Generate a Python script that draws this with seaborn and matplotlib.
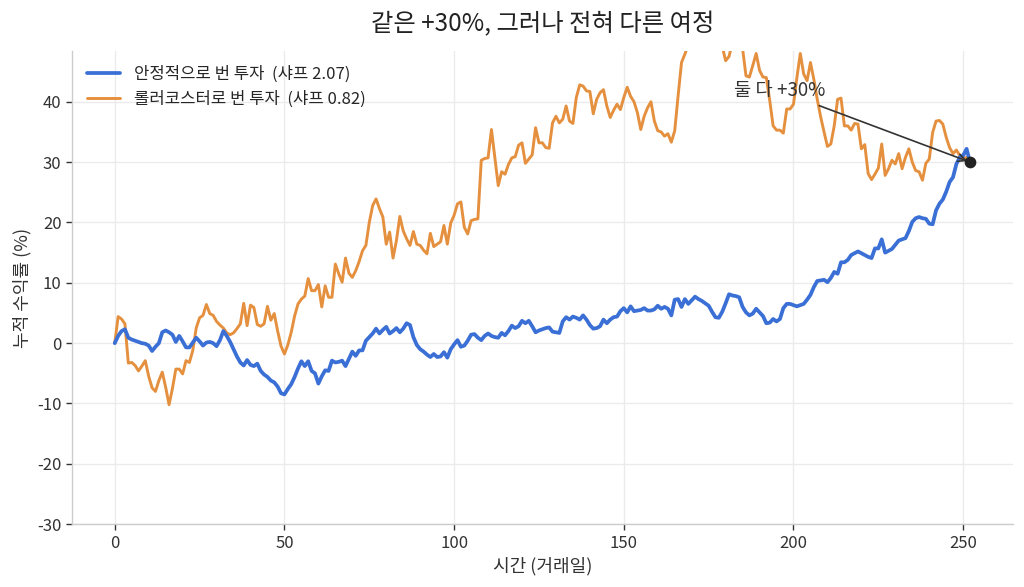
import numpy as np
import pandas as pd
import matplotlib
matplotlib.use("Agg")
import matplotlib.pyplot as plt
import seaborn as sns

# ---- data (cumulative return, %) for trading days 0..252 ----
stable = [
    0.0, 1.2, 2.0, 2.3, 0.9, 0.6, 0.4, 0.2, 0.0, -0.1,
    -0.4, -1.3, -0.6, 0.0, 1.8, 2.1, 1.8, 1.4, 0.2, 1.2,
    0.3, -0.7, -0.7, 0.1, 0.9, 0.3, -0.4, 0.1, 0.2, 0.0,
    -0.5, 0.5, 2.0, 1.2, 0.2, -1.0, -2.2, -3.2, -3.7, -2.8,
    -3.6, -3.8, -3.4, -4.6, -5.2, -5.6, -6.2, -6.5, -7.2, -8.3,
    -8.5, -7.6, -6.8, -5.6, -4.2, -3.0, -3.8, -3.0, -4.6, -5.0,
    -6.7, -5.5, -4.5, -4.6, -2.9, -3.2, -3.1, -2.9, -3.8, -2.6,
    -1.4, -2.1, -1.2, -1.2, 0.4, 1.0, 1.6, 2.4, 1.6, 2.2,
    2.7, 1.6, 2.0, 2.5, 1.8, 2.4, 3.3, 3.0, 1.0, -0.3,
    -1.0, -1.4, -1.9, -2.3, -1.8, -2.3, -2.2, -1.5, -2.4, -1.0,
    -0.2, 0.5, -0.6, -0.4, 0.4, 1.4, 1.5, 0.9, 0.5, 1.2,
    1.6, 1.2, 1.0, 0.9, 1.7, 1.3, 2.0, 2.9, 2.5, 2.8,
    3.7, 3.3, 3.7, 2.8, 1.8, 2.1, 2.3, 2.5, 2.6, 1.9,
    1.8, 1.7, 3.6, 4.3, 3.9, 4.4, 4.2, 3.9, 4.6, 3.9,
    3.0, 2.4, 2.5, 2.8, 3.9, 3.3, 3.9, 4.3, 4.4, 5.3,
    5.8, 5.1, 6.1, 5.3, 5.4, 5.5, 5.8, 5.4, 5.4, 5.6,
    6.2, 5.7, 6.0, 5.7, 4.6, 7.2, 7.3, 6.0, 7.3, 6.5,
    7.1, 7.7, 7.3, 7.0, 6.6, 6.2, 5.2, 4.3, 4.2, 5.2,
    6.6, 8.1, 7.9, 7.8, 7.6, 6.0, 5.1, 4.6, 4.9, 5.7,
    5.1, 4.5, 3.3, 3.4, 4.0, 3.6, 4.0, 5.8, 6.5, 6.5,
    6.3, 6.1, 6.3, 6.5, 7.2, 8.0, 9.3, 10.3, 10.4, 10.5,
    10.1, 10.8, 11.8, 11.5, 13.4, 13.4, 13.8, 14.6, 14.9, 15.2,
    14.9, 14.6, 14.3, 14.1, 15.7, 15.7, 17.2, 15.0, 15.3, 15.6,
    16.3, 17.0, 17.2, 17.4, 18.6, 20.1, 20.7, 20.9, 20.7, 20.6,
    19.8, 19.7, 22.0, 23.1, 23.8, 25.1, 26.7, 27.5, 29.7, 30.8,
    31.1, 32.2, 30.0,
]

coaster = [
    0.0, 4.4, 4.0, 3.2, -3.3, -3.2, -3.7, -4.6, -3.8, -2.9,
    -5.5, -7.4, -8.0, -6.2, -4.8, -7.3, -10.2, -7.5, -4.3, -4.3,
    -5.1, -2.9, -3.2, -1.2, 2.5, 4.2, 4.6, 6.4, 4.9, 4.6,
    3.6, 3.0, 2.5, 1.7, 1.4, 1.7, 2.4, 3.2, 6.6, 2.9,
    6.3, 5.9, 3.1, 2.8, 3.2, 6.1, 3.8, 4.9, 2.0, -0.5,
    -1.8, -0.3, 1.8, 4.5, 6.5, 7.3, 7.8, 10.7, 8.7, 8.7,
    9.7, 6.0, 9.5, 7.6, 7.6, 13.1, 11.5, 10.1, 14.1, 11.6,
    10.9, 12.0, 13.5, 15.3, 16.2, 20.0, 22.8, 23.9, 22.3, 20.9,
    16.4, 18.4, 14.1, 17.0, 21.0, 18.6, 17.3, 16.2, 18.5, 16.4,
    16.2, 15.4, 14.8, 18.2, 16.0, 16.4, 16.8, 19.5, 16.4, 19.9,
    21.2, 23.1, 23.4, 19.2, 18.1, 20.3, 20.5, 20.6, 30.3, 30.6,
    30.7, 35.4, 30.7, 26.1, 28.4, 28.0, 29.6, 30.7, 30.9, 32.8,
    33.2, 29.8, 30.5, 31.2, 35.7, 33.2, 33.2, 32.4, 32.3, 36.5,
    37.6, 36.5, 37.1, 39.3, 36.8, 36.4, 40.7, 42.8, 42.6, 41.8,
    41.7, 38.0, 40.4, 41.5, 42.0, 39.3, 37.4, 38.6, 39.6, 38.7,
    40.7, 42.4, 40.9, 40.0, 38.2, 35.4, 37.6, 39.0, 40.0, 36.8,
    35.2, 35.0, 34.3, 34.7, 33.3, 35.2, 41.0, 46.5, 47.9, 49.5,
    51.0, 52.5, 50.8, 53.2, 52.0, 54.0, 51.5, 52.8, 50.4, 49.2,
    46.8, 47.5, 49.8, 51.2, 50.0, 48.8, 44.3, 44.1, 46.0, 48.0,
    45.2, 44.1, 44.0, 40.2, 36.0, 35.3, 35.3, 34.8, 38.8, 38.8,
    39.6, 44.0, 48.0, 44.6, 43.5, 46.5, 43.7, 40.4, 37.5, 35.0,
    32.6, 33.0, 36.0, 40.4, 40.6, 36.0, 36.0, 35.3, 36.4, 36.3,
    32.2, 32.9, 28.1, 27.1, 28.0, 29.0, 33.0, 27.8, 28.9, 30.3,
    29.7, 31.4, 28.9, 30.8, 32.2, 30.0, 28.6, 28.4, 27.0, 29.8,
    30.5, 34.9, 36.8, 36.9, 36.3, 34.1, 32.4, 31.4, 32.0, 31.1,
    30.5, 30.8, 30.0,
]

days = list(range(len(stable)))
label_stable = "안정적으로 번 투자  (샤프 2.07)"
label_coaster = "롤러코스터로 번 투자  (샤프 0.82)"
title = "같은 +30%, 그러나 전혀 다른 여정"
xlabel = "시간 (거래일)"
ylabel = "누적 수익률 (%)"
annot_text = "둘 다 +30%"

color_stable = "#3a6fd6"
color_coaster = "#e5903f"

# ---- style ----
sns.set_theme(style="whitegrid")
plt.rcParams["font.family"] = ["Noto Sans CJK KR", "DejaVu Sans"]
plt.rcParams["axes.unicode_minus"] = False

fig, ax = plt.subplots(figsize=(10.24, 5.87), dpi=100)
fig.subplots_adjust(left=0.0703, right=0.989, top=0.913, bottom=0.107)

df = pd.DataFrame({"day": days, "stable": stable, "coaster": coaster})
sns.lineplot(data=df, x="day", y="stable", ax=ax, color=color_stable,
             linewidth=2.7, label=label_stable, zorder=3)
sns.lineplot(data=df, x="day", y="coaster", ax=ax, color=color_coaster,
             linewidth=2.1, label=label_coaster, zorder=2)

ax.scatter([days[-1]], [stable[-1]], s=55, color="#222222", zorder=5)
ax.annotate(annot_text, xy=(days[-1], stable[-1]), xytext=(196, 41.8),
            ha="center", va="center", fontsize=13.5, color="#333333",
            arrowprops=dict(arrowstyle="->", color="#333333", lw=1.2))

ax.set_ylim(-30, 48.4)
ax.set_xlim(-12.6, 264.6)
ax.set_yticks([-30, -20, -10, 0, 10, 20, 30, 40])
ax.set_xticks([0, 50, 100, 150, 200, 250])

ax.set_title(title, fontsize=17.5, color="#222222", pad=14)
ax.set_xlabel(xlabel, fontsize=13, color="#333333", labelpad=4)
ax.set_ylabel(ylabel, fontsize=13, color="#333333", labelpad=4)

ax.grid(True, color="#ebebeb", linewidth=1.0)
for s in ["top", "right"]:
    ax.spines[s].set_visible(False)
for s in ["left", "bottom"]:
    ax.spines[s].set_color("#cccccc")
    ax.spines[s].set_linewidth(1.0)
ax.tick_params(axis="both", which="major", labelsize=12, colors="#333333",
               length=4, width=1.0, left=True, bottom=True)
for lbl in ax.get_xticklabels() + ax.get_yticklabels():
    lbl.set_color("#333333")

leg = ax.legend(loc="upper left", frameon=False, fontsize=12,
                labelspacing=0.45)

fig.savefig("out.png", dpi=100)
